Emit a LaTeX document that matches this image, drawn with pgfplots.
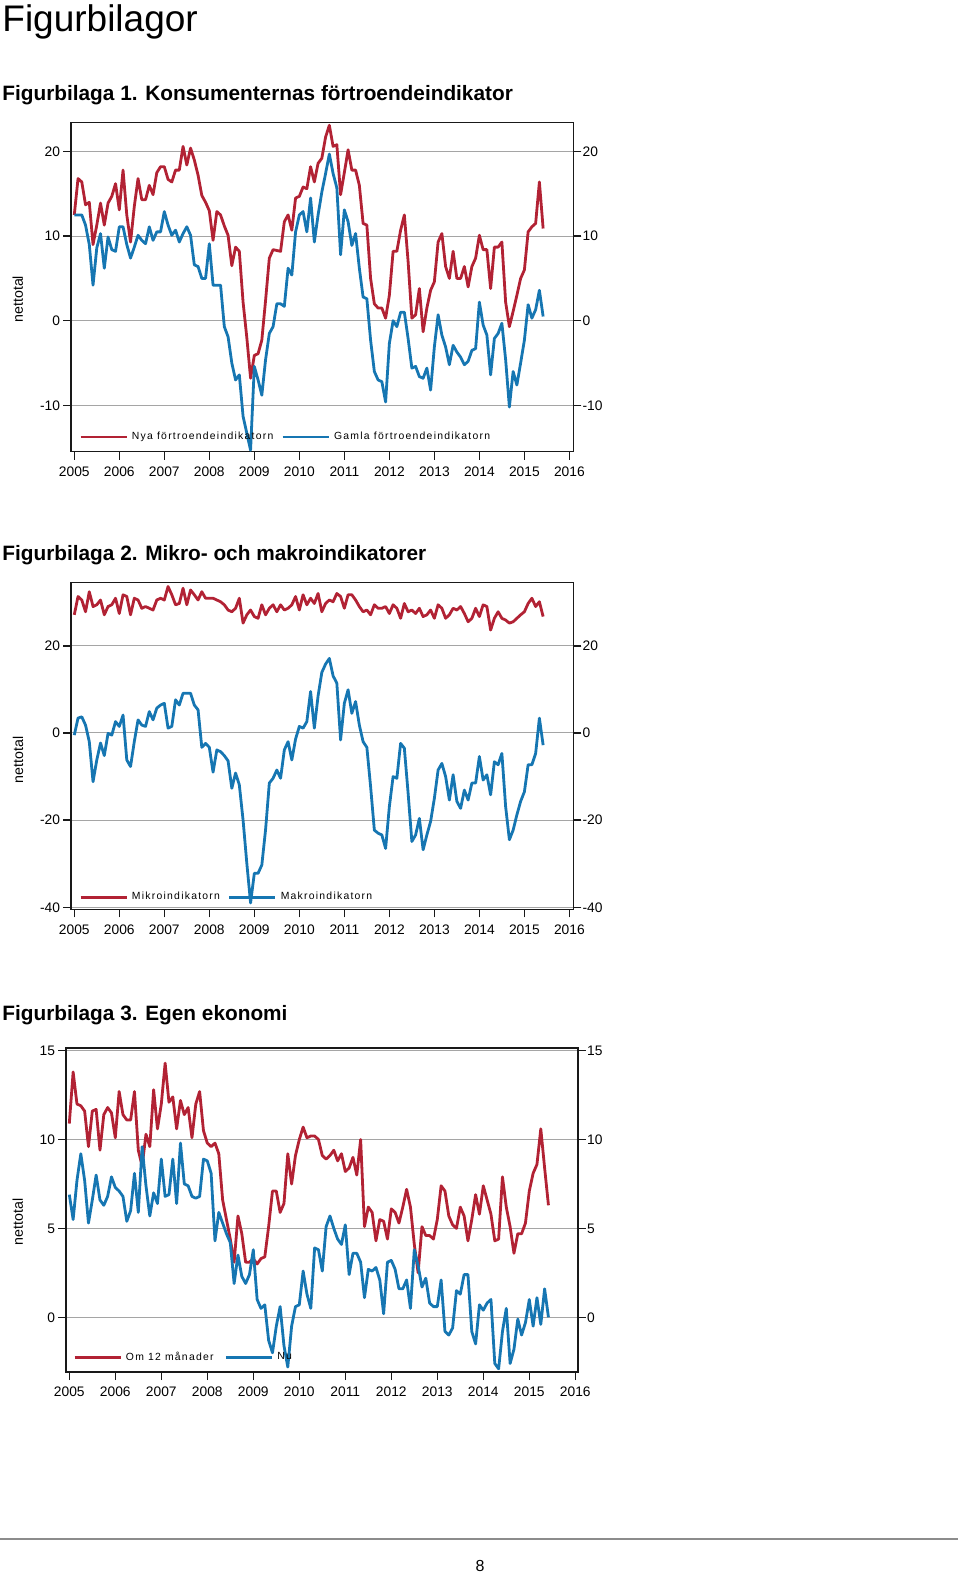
\documentclass[border=0pt]{standalone}
\usepackage{pgfplots}
\pgfplotsset{compat=1.18}
\usepackage{pgfplotstable}
\usepackage{fontspec}
\setmainfont{Liberation Sans}
\newfontfamily\legfont[LetterSpace=12]{Liberation Sans}
\definecolor{cred}{RGB}{178,34,52}
\definecolor{cblue}{RGB}{22,118,178}
\definecolor{cgrid}{RGB}{165,165,165}

% Figurbilaga 1: m = months since Jan 2005, r = Nya, b = Gamla
\pgfplotstableread{
m r b
0 12.5 12.5
1 16.8 12.5
2 16.4 12.5
3 13.7 11.3
4 14 9
5 9 4.2
6 11.3 8.6
7 13.9 10.3
8 11.3 6.2
9 13.9 9.9
10 14.7 8.4
11 16.2 8.2
12 13.1 11.1
13 17.8 11.1
14 12.5 9
15 9.3 7.4
16 13.5 8.7
17 16.8 10.1
18 14.3 9.5
19 14.3 9.1
20 16 11.1
21 14.9 9.5
22 17.5 10.5
23 18.2 10.5
24 18.2 12.9
25 16.7 11.3
26 16.4 10.1
27 17.8 10.7
28 17.8 9.3
29 20.6 10.3
30 18.4 11.1
31 20.4 10.1
32 19 6.6
33 17.2 6.4
34 14.8 5
35 14 5
36 13 9.1
37 9.5 4.2
38 12.9 4.2
39 12.5 4.2
40 11.2 -0.7
41 10.1 -1.9
42 6.5 -5
43 8.7 -7
44 8.2 -6.4
45 2.2 -11.3
46 -2 -13.3
47 -6.8 -15.3
48 -4.1 -5.4
49 -3.9 -7
50 -2.3 -8.8
51 2.4 -4.6
52 7.4 -1.5
53 8.4 -0.7
54 8.3 2
55 8.2 2
56 11.7 1.7
57 12.5 6.2
58 10.7 5.4
59 14.5 10.5
60 14.7 12.5
61 15.8 12.9
62 15.6 10.5
63 18.2 14.5
64 16.4 9.3
65 18.6 12.5
66 19.2 15.2
67 21.7 17.4
68 23.1 19.7
69 20.6 17.4
70 20.8 15.7
71 14.9 7.8
72 17.5 13.1
73 20.2 11.7
74 17.8 8.9
75 17.8 10.3
76 16 6.2
77 11.5 2.8
78 11.3 2.6
79 5 -2.3
80 2 -6
81 1.5 -7
82 1.5 -7.2
83 0.3 -9.6
84 3 -2.7
85 8.2 0
86 8.2 -0.7
87 10.7 1
88 12.5 1
89 7 -2.1
90 0.3 -5.6
91 0.7 -5.4
92 3.8 -6.6
93 -1.3 -6.8
94 1.5 -5.6
95 3.6 -8.2
96 4.6 -3.1
97 9.3 0.7
98 10.3 -1.7
99 6.4 -3.1
100 5 -5.2
101 8.2 -2.9
102 5 -3.7
103 5 -4.3
104 6.4 -5.2
105 4 -4.8
106 6.4 -3.5
107 7.4 -3.3
108 10.1 2.2
109 8.4 -0.5
110 8.4 -1.7
111 3.8 -6.4
112 8.7 -2.1
113 8.7 -1.5
114 9.3 -0.3
115 2.2 -4.6
116 -0.7 -10.2
117 1.1 -6
118 3 -7.6
119 5 -5
120 6 -2.3
121 10.5 1.9
122 11.1 0.3
123 11.5 1.3
124 16.4 3.6
125 10.9 0.5
}\tabA

% Figurbilaga 2: r = Mikro, b = Makro
\pgfplotstableread{
m r b
0 27.1 -0.5
1 31.3 3.4
2 30.5 3.7
3 27.8 1.8
4 32.4 -2
5 29 -11.2
6 29.4 -6.2
7 30.5 -2.3
8 27.1 -5.2
9 29 -0.1
10 29.4 -0.5
11 30.9 2.6
12 27.4 1.5
13 31.7 4.1
14 31.3 -6.2
15 27.1 -7.7
16 30.9 -2
17 30.5 3
18 28.6 1.8
19 29 1.5
20 28.6 4.9
21 28.2 3
22 30.5 5.7
23 30.9 6.4
24 30.5 6.8
25 33.6 1.1
26 31.7 1.5
27 29.4 7.6
28 29.7 6.4
29 33.2 9.1
30 29.4 9.1
31 32.8 9.1
32 31.7 6.4
33 30.5 5.3
34 32.4 -3.3
35 30.9 -2.4
36 30.9 -3.3
37 30.9 -9
38 30.5 -3.9
39 30.1 -4.3
40 29.4 -5.2
41 28.2 -6.4
42 27.8 -12.7
43 28.6 -9.2
44 30.9 -11.9
45 25.2 -20
46 27.1 -29.9
47 28.2 -39
48 26.7 -32.2
49 26.3 -32.2
50 29.4 -30.3
51 27.1 -22.2
52 28.6 -11.5
53 29.4 -10.4
54 27.8 -8.5
55 29.4 -10.4
56 28.2 -3.9
57 28.6 -2
58 29.4 -6.2
59 31.3 -1.4
60 28.2 1.5
61 31.7 1.1
62 29.4 2.6
63 30.9 9.5
64 29.7 1.1
65 32 8.5
66 27.8 13.9
67 29.7 15.8
68 30.5 17.1
69 30.1 13.1
70 32 11.4
71 31.3 -1.6
72 28.6 6.8
73 31.7 9.9
74 31.7 4.5
75 30.5 7.2
76 29 1.8
77 27.8 -2
78 28.2 -3.3
79 27.1 -12.3
80 29.4 -22.3
81 28.6 -23
82 28.6 -23.4
83 29 -26.5
84 27.4 -16.9
85 29.4 -10
86 28.6 -10.4
87 26.3 -2.4
88 29.7 -3.5
89 27.8 -13.8
90 28.2 -24.9
91 27.4 -23.4
92 28.6 -19.6
93 26.7 -26.8
94 27.1 -23.4
95 28.2 -20.3
96 26.3 -15
97 29.4 -8.5
98 28.6 -7
99 26.3 -10
100 27.1 -15.4
101 28.6 -9.6
102 28.2 -15.7
103 29 -17.3
104 27.4 -13.1
105 25.5 -15.4
106 26.3 -11.5
107 28.6 -11.5
108 26.7 -5.4
109 29.4 -10.8
110 29 -9.6
111 23.6 -14.2
112 26.3 -6.6
113 27.8 -7.3
114 26.3 -4.7
115 25.9 -16.9
116 25.2 -24.5
117 25.5 -22.3
118 26.3 -18.8
119 27.1 -15.7
120 27.8 -13.5
121 29.7 -7.3
122 30.9 -7.3
123 29 -4.7
124 30.1 3.4
125 26.7 -2.8
}\tabB

% Figurbilaga 3: r = Om 12 manader, b = Nu
\pgfplotstableread{
m r b
0 10.9 6.9
1 13.8 5.5
2 12 7.7
3 11.9 9.2
4 11.6 7.7
5 9.6 5.3
6 11.6 6.6
7 11.7 8
8 9.4 6.6
9 11.4 6.3
10 11.8 6.8
11 11.5 7.9
12 10.1 7.3
13 12.7 7.1
14 11.4 6.8
15 11.1 5.4
16 11.1 6
17 12.7 8.1
18 9.4 5.9
19 8.5 9.6
20 10.3 7.4
21 9.6 5.7
22 12.8 7
23 10.6 6.4
24 12 8.9
25 14.3 6.8
26 12.1 6.9
27 12.4 8.9
28 10.6 6.4
29 12.2 9.8
30 11.4 7.5
31 11.8 7.4
32 10.1 6.8
33 12 6.7
34 12.7 6.8
35 10.5 8.9
36 9.8 8.8
37 9.6 8.1
38 9.8 4.3
39 9.2 5.9
40 6.6 5.3
41 5.5 4.7
42 4.4 4.2
43 3.1 1.9
44 5.7 3.5
45 4.7 2.3
46 3.1 1.9
47 3.1 2.4
48 3.3 3.8
49 3 1
50 3.3 0.5
51 3.4 0.7
52 5.1 -1.3
53 7.1 -2
54 7.1 -0.5
55 5.9 0.6
56 6.4 -1.6
57 9.2 -2.8
58 7.5 -0.5
59 9.1 0.6
60 10 0.7
61 10.7 2.6
62 10.1 1.3
63 10.2 0.5
64 10.2 3.9
65 10 3.8
66 9.1 2.6
67 8.9 5.1
68 9.1 5.7
69 9.4 5
70 8.8 4.4
71 9.2 4.1
72 8.2 5.2
73 8.4 2.4
74 9 3.6
75 8 3.6
76 10 3.1
77 5.1 1.1
78 6.2 2.7
79 5.9 2.6
80 4.3 2.8
81 5.5 2.1
82 5.4 0.2
83 4.4 3.1
84 6.1 3.2
85 5.9 2.7
86 5.3 1.6
87 6.2 1.6
88 7.2 2.1
89 6.2 0.5
90 4.1 3.8
91 2.5 2.9
92 5.1 1.7
93 4.6 2.2
94 4.6 0.8
95 4.4 0.6
96 5.5 0.6
97 7.4 2.1
98 7.1 -0.8
99 5.7 -1
100 5.2 -0.6
101 5 1.5
102 6.2 1.3
103 5.7 2.4
104 4.3 2.4
105 5.5 -0.8
106 6.9 -1.5
107 5.8 0.7
108 7.4 0.4
109 6.6 0.8
110 5.8 1
111 4.3 -2.6
112 4.4 -2.9
113 7.9 -0.8
114 6.2 0.5
115 5.1 -2.6
116 3.6 -1.8
117 4.7 -0.1
118 4.7 -1
119 5.3 -0.3
120 7.1 1
121 8.1 -0.5
122 8.6 1.1
123 10.6 -0.4
124 8.4 1.6
125 6.3 0
}\tabC

\pgfplotsset{
  fb/.style={
    scale only axis,
    axis line style={black!90, line width=0.75pt},
    tick style={black!90, line width=0.75pt},
    tick align=outside,
    major tick length=4pt,
    xtick={2005,2006,...,2016},
    xtick pos=bottom,
    /pgf/number format/1000 sep={},
    /pgf/number format/assume math mode=true,
    tick label style={font=\fontsize{6.9}{8}\selectfont},
    ymajorgrids,
    grid style={cgrid, line width=0.5pt},
  },
  fbmain/.style={fb,
    ytick pos=both, yticklabel pos=left,
    yticklabel style={inner xsep=1.3pt},
    ylabel={nettotal},
    ylabel style={font=\fontsize{7.1}{8}\selectfont, anchor=center},
    legend columns=2,
    legend cell align=left,
    legend style={draw=none, fill=none, inner sep=0pt, outer sep=0pt, anchor=west,
       font=\legfont\fontsize{5.2}{6}\selectfont,
       /tikz/every even column/.append style={column sep=2pt}},
    legend image code/.code={\draw[#1] (0pt,0pt) -- (23pt,0pt);},
    every axis plot/.append style={line width=1.4pt, line join=round, no markers},
  },
  fbright/.style={fb, ymajorgrids=false, hide x axis, axis line style={draw=none},
    ytick pos=right, yticklabel pos=right, yticklabel style={inner xsep=0.4pt}},
}

\begin{document}
\begin{tikzpicture}
\path[use as bounding box] (0pt,0pt) rectangle (480pt,-786pt);

\node[anchor=base west, inner sep=0pt, font=\fontsize{18.5}{20}\selectfont] at (1pt,-15.8pt) {Figurbilagor};
\node[anchor=base west, inner sep=0pt, font=\bfseries\fontsize{10.4}{12}\selectfont] at (1pt,-50.1pt) {Figurbilaga 1. Konsumenternas förtroendeindikator};
\node[anchor=base west, inner sep=0pt, font=\bfseries\fontsize{10.4}{12}\selectfont] at (1pt,-280.2pt) {Figurbilaga 2. Mikro- och makroindikatorer};
\node[anchor=base west, inner sep=0pt, font=\bfseries\fontsize{10.4}{12}\selectfont] at (1pt,-510.3pt) {Figurbilaga 3. Egen ekonomi};
\draw[black!45, line width=0.6pt] (0pt,-769.5pt) -- (479pt,-769.5pt);
\node[anchor=base, inner sep=0pt, font=\fontsize{8}{9}\selectfont] at (240pt,-785.5pt) {8};

% ---------- Chart 1 ----------
\begin{axis}[fbmain, at={(35.5pt,-61.15pt)}, anchor=north west,
  width=251.2pt, height=164.7pt,
  xmin=2004.927, xmax=2016.089, ymin=-15.48, ymax=23.45, ytick={-10,0,10,20},
  ylabel style={at={(axis description cs:-0.106,0.463)}},
  legend style={at={(axis description cs:0.0163,0.0446)}}]
\addplot[cred] table[x expr=2005+\thisrow{m}/12, y=r]{\tabA};
\addlegendentry{Nya förtroendeindikatorn}
\addplot[cblue] table[x expr=2005+\thisrow{m}/12, y=b]{\tabA};
\addlegendentry{Gamla förtroendeindikatorn}
\end{axis}
\begin{axis}[fbright, at={(35.5pt,-61.15pt)}, anchor=north west,
  width=251.2pt, height=164.7pt,
  xmin=2004.927, xmax=2016.089, ymin=-15.48, ymax=23.45, ytick={-10,0,10,20}]
\end{axis}

% ---------- Chart 2 ----------
\begin{axis}[fbmain, at={(35.5pt,-291.15pt)}, anchor=north west,
  width=251.2pt, height=163.5pt,
  xmin=2004.927, xmax=2016.089, ymin=-40.46, ymax=34.56, ytick={-40,-20,0,20},
  ylabel style={at={(axis description cs:-0.1055,0.457)}},
  legend style={at={(axis description cs:0.0163,0.0367)}}]
\addplot[cred] table[x expr=2005+\thisrow{m}/12, y=r]{\tabB};
\addlegendentry{Mikroindikatorn}
\addplot[cblue] table[x expr=2005+\thisrow{m}/12, y=b]{\tabB};
\addlegendentry{Makroindikatorn}
\end{axis}
\begin{axis}[fbright, at={(35.5pt,-291.15pt)}, anchor=north west,
  width=251.2pt, height=163.5pt,
  xmin=2004.927, xmax=2016.089, ymin=-40.46, ymax=34.56, ytick={-40,-20,0,20}]
\end{axis}

% ---------- Chart 3 ----------
\begin{axis}[fbmain, at={(33pt,-524pt)}, anchor=north west,
  width=256pt, height=162pt,
  xmin=2004.928, xmax=2016.059, ymin=-3.08, ymax=15.15, ytick={0,5,10,15},
  ylabel style={at={(axis description cs:-0.094,0.463)}},
  legend style={at={(axis description cs:0.014,0.0448)},
    /tikz/every even column/.append style={column sep=3.5pt}}]
\addplot[cred] table[x expr=2005+\thisrow{m}/12, y=r]{\tabC};
\addlegendentry{Om 12 månader}
\addplot[cblue] table[x expr=2005+\thisrow{m}/12, y=b]{\tabC};
\addlegendentry{Nu}
\end{axis}
\begin{axis}[fbright, at={(33pt,-524pt)}, anchor=north west,
  width=256pt, height=162pt,
  xmin=2004.928, xmax=2016.059, ymin=-3.08, ymax=15.15, ytick={0,5,10,15}]
\end{axis}
\end{tikzpicture}
\end{document}
